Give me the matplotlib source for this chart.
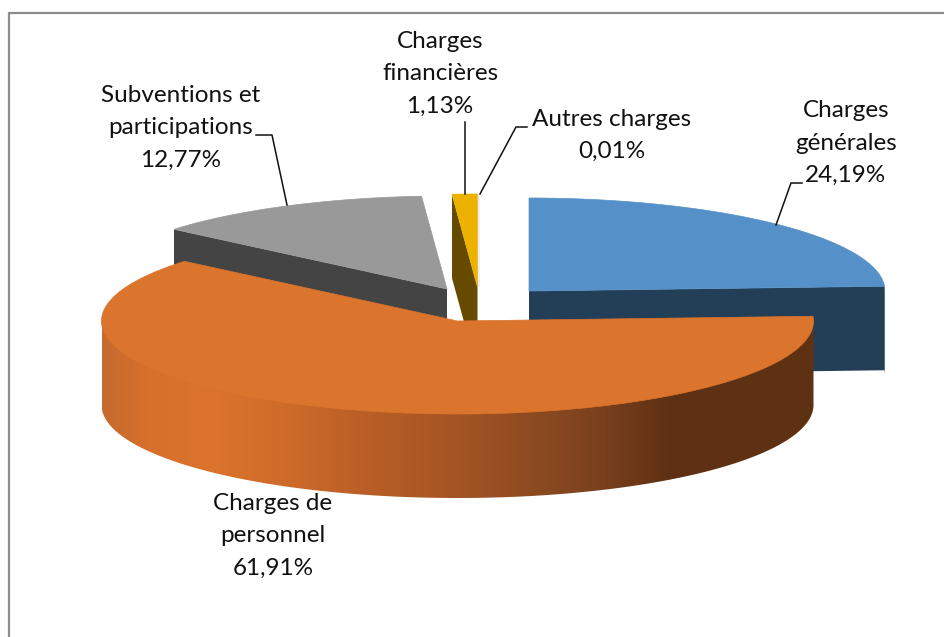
import numpy as np
import matplotlib
matplotlib.use("Agg")
import matplotlib.pyplot as plt
from matplotlib.colors import LinearSegmentedColormap
from matplotlib.patches import Polygon

# data
names = ["Charges\ngénérales", "Charges de\npersonnel", "Subventions et\nparticipations",
         "Charges\nfinancières", "Autres charges"]
shares = [24.19, 61.91, 12.77, 1.13, 0.01]

# layout, in pixels of the 945x637 picture
centers = [(529, 291), (457.5, 321), (447, 289), (477.5, 287), (479, 287)]
topColors = ["#5591C8", "#DB742D", "#999999", "#EDB100", "#E4E8F2"]
sideColors = ["#233F58", "#DB742D", "#444444", "#654A00", "#E4E8F2"]
radialFace = ["end", None, "start", "start", None]
labelPos = [(846, 143), (273, 536), (181, 128), (440, 74), (612, 135.5)]
leaders = [[(776, 225), (791, 183), (802, 183)],
           None,
           [(287, 205), (272, 135), (256, 135)],
           [(465, 122), (465, 194)],
           [(480, 194), (516, 127), (527, 127)]]
rx = 356
ry = 93
depth = 84
drawOrder = [4, 3, 2, 0, 1]

plt.rcParams["font.family"] = ["Lato", "DejaVu Sans"]
fig = plt.figure(figsize=(9.45, 6.37), dpi=100)
ax = fig.add_axes([0, 0, 1, 1])
ax.set_xlim(0, 945)
ax.set_ylim(637, 0)
ax.axis("off")


def rimPoint(center, angle):
    rad = np.radians(angle)
    return center[0] + rx*np.sin(rad), center[1] - ry*np.cos(rad)


def rim(center, a0, a1, n=200):
    angles = np.linspace(a0, a1, n)
    return np.array([rimPoint(center, a) for a in angles])


# frame of the chart, only left and top are inside the crop
ax.plot([8.5, 8.5, 945], [637, 12.5, 12.5], color="#8C8C8C", lw=1.6, solid_capstyle="butt")

edges = np.cumsum([0] + shares)/sum(shares)*360

for i in drawOrder:
    c = centers[i]
    a0, a1 = edges[i], edges[i+1]
    if radialFace[i] is not None:
        p = rimPoint(c, a1 if radialFace[i] == "end" else a0)
        face = [c, p, (p[0], p[1]+depth), (c[0], c[1]+depth)]
        ax.add_patch(Polygon(face, closed=True, fc=sideColors[i], ec="none"))
    if i == 1:
        # outer wall of the big slice, closed under the top face to avoid a seam
        front = rim(c, max(a0, 90), 270)
        wall = np.vstack([front + [0, depth], front[-1], front[0]])
        patch = Polygon(wall, closed=True, fc="none", ec="none")
        ax.add_patch(patch)
        shade = LinearSegmentedColormap.from_list("wall", [
            (0.00, "#C76A2E"), (0.06, "#D6702B"), (0.15, "#DB732C"), (0.25, "#CF6C2A"),
            (0.355, "#BC6027"), (0.50, "#A35524"), (0.70, "#7A411E"), (0.80, "#5F3013"),
            (1.00, "#5F3214")])
        img = ax.imshow(np.linspace(0, 1, 400).reshape(1, -1), cmap=shade, aspect="auto",
                        extent=[c[0]-rx, c[0]+rx, 637, 0], zorder=patch.get_zorder())
        img.set_clip_path(patch)
        ax.set_xlim(0, 945)
        ax.set_ylim(637, 0)
    if i == 0:
        # short piece of outer wall at the right of the blue slice
        front = rim(c, a1, 90, 20)
        wall = np.vstack([front, (front + [0, depth])[::-1]])
        ax.add_patch(Polygon(wall, closed=True, fc=sideColors[i], ec="none"))
    top = np.vstack([[c], rim(c, a0, a1)])
    ax.add_patch(Polygon(top, closed=True, fc=topColors[i], ec=topColors[i], lw=0.5, zorder=3))

for i in range(len(names)):
    pct = f"{shares[i]:.2f}".replace(".", ",") + "%"
    ax.text(labelPos[i][0], labelPos[i][1], names[i] + "\n" + pct, ha="center", va="center",
            fontsize=17.5, color="#111111", linespacing=1.65, zorder=5)
    if leaders[i] is not None:
        xs, ys = zip(*leaders[i])
        ax.plot(xs, ys, color="#111111", lw=1.1, zorder=4)

plt.savefig("out.png", dpi=100)
plt.close("all")
